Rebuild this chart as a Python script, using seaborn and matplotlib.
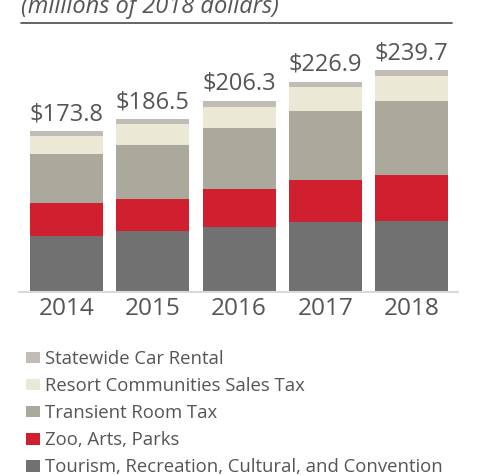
import matplotlib
matplotlib.use("Agg")
import matplotlib.pyplot as plt
from matplotlib.patches import Patch
from matplotlib.lines import Line2D
import seaborn as sns
import numpy as np

sns.set_style("white")
plt.rcParams['font.family'] = ['Open Sans', 'DejaVu Sans']

years = ["2014", "2015", "2016", "2017", "2018"]
totals = [173.8, 186.5, 206.3, 226.9, 239.7]
tourism = [60.3, 65.7, 70.0, 75.5, 76.6]
zoo = [35.7, 34.7, 41.1, 45.5, 49.8]
transient = [53.0, 58.2, 66.0, 74.5, 80.1]
resort = [19.4, 22.5, 22.7, 25.5, 27.1]
car = [5.4, 5.4, 6.5, 5.9, 6.1]

series_names = ["Tourism, Recreation, Cultural, and Convention", "Zoo, Arts, Parks",
                "Transient Room Tax", "Resort Communities Sales Tax", "Statewide Car Rental"]
series_vals = [tourism, zoo, transient, resort, car]
colors = ["#707170", "#d02030", "#aba99c", "#ebe8d6", "#c1bdb6"]
title = "(millions of 2018 dollars)"

text_color = "#555555"

fig = plt.figure(figsize=(4.8, 4.76), dpi=100)
ax = fig.add_axes([19/480, 1 - 291.7/476, 439/480, (291.7 - 30)/476])

bottom = np.zeros(len(years))
for name, vals, c in zip(series_names, series_vals, colors):
    sns.barplot(x=years, y=vals, bottom=bottom, color=c, saturation=1,
                width=0.846, errorbar=None, ax=ax, linewidth=0)
    bottom = bottom + np.array(vals)

for i, t in enumerate(totals):
    ax.text(i, t + 12, f"${t:.1f}", ha="center", va="baseline",
            fontsize=17, color=text_color)

ax.set_xlim(-0.551, 4.539)
ax.set_ylim(0, 261.7/0.924)
ax.set_yticks([])
ax.set_ylabel("")
for s in ["top", "left", "right"]:
    ax.spines[s].set_visible(False)
ax.spines["bottom"].set_color("#d9d9d9")
ax.spines["bottom"].set_linewidth(1.5)
ax.tick_params(axis="x", length=0, pad=4, labelsize=17.6, labelcolor=text_color)

fig.text(21/480, 1 - 13/476, title, ha="left", va="baseline", fontsize=17,
         style="italic", color=text_color)
fig.add_artist(Line2D([21/480, 452/480], [1 - 22.7/476, 1 - 22.7/476],
                      transform=fig.transFigure, color="#4a4a4a", lw=1.2))

handles = [Patch(facecolor=c, edgecolor="none") for c in colors[::-1]]
labels = series_names[::-1]
fig.legend(handles, labels, loc="upper left", bbox_to_anchor=(26/480, 1 - 350/476),
           bbox_transform=fig.transFigure, frameon=False, borderaxespad=0, borderpad=0,
           handlelength=0.76, handleheight=0.6, handletextpad=0.25, labelspacing=0.49,
           fontsize=13.3, labelcolor=text_color)

fig.savefig("out.png", dpi=100)
